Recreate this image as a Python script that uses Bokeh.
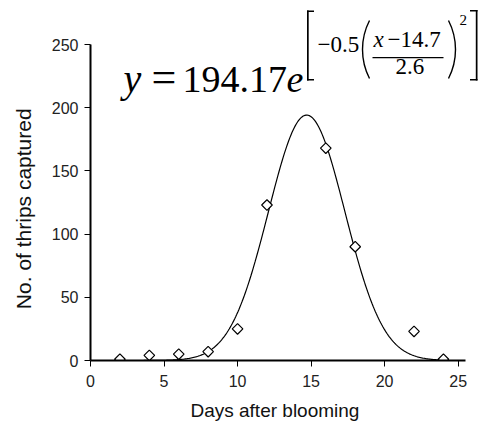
import numpy as np
from bokeh.plotting import figure
from bokeh.models import Range1d, FixedTicker, Label, BoxAnnotation
from bokeh.embed import file_html
from bokeh.resources import INLINE

# ---- data ----
days = [2, 4, 6, 8, 10, 12, 16, 18, 22, 24]
thrips = [1, 4, 5, 7, 25, 123, 168, 90, 23, 1]
# fitted model parameters printed on the chart
amp, mu, sigma = 194.17, 14.7, 2.6
x_ticks = [0, 5, 10, 15, 20, 25]
y_ticks = [0, 50, 100, 150, 200, 250]
x_max, y_max = 25.5, 250

xs = np.linspace(2, 24, 300)
ys = amp * np.exp(-0.5 * ((xs - mu) / sigma) ** 2)

# layout (image pixels)
AX_L, AX_R, AX_T, AX_B = 90, 465, 44, 360   # visible axis box
W, H = 482, 431
FT, FR = 4, 480                              # frame extends beyond axes for the equation
FW = FR - AX_L
FH = AX_B - FT
PPX = (AX_R - AX_L) / x_max
PPY = (AX_B - AX_T) / y_max
X0, X1 = 0, FW / PPX
Y0, Y1 = 0, FH / PPY

p = figure(width=W, height=H, output_backend="svg", toolbar_location=None,
           x_range=Range1d(X0, X1), y_range=Range1d(Y0, Y1),
           frame_width=FW, frame_height=FH,
           min_border_left=AX_L, min_border_top=FT,
           min_border_right=W - FR, min_border_bottom=H - AX_B)
p.outline_line_color = None
p.xgrid.grid_line_color = None
p.ygrid.grid_line_color = None
p.background_fill_color = "white"
p.border_fill_color = "white"

p.xaxis.ticker = FixedTicker(ticks=x_ticks)
p.yaxis.ticker = FixedTicker(ticks=y_ticks)
p.xaxis.bounds = (0, x_max)
p.yaxis.bounds = (0, y_max)
for ax in (p.xaxis[0], p.yaxis[0]):
    ax.axis_line_width = 2
    ax.axis_line_color = "black"
    ax.major_tick_line_color = "black"
    ax.major_tick_line_width = 1
    ax.minor_tick_line_color = None
    ax.major_tick_in = 0
    ax.major_tick_out = 6
    ax.major_label_text_font = "Liberation Sans"
    ax.major_label_text_font_size = "16px"
    ax.major_label_text_color = "#222222"
    ax.axis_label_text_font = "Liberation Sans"
    ax.axis_label_text_font_style = "normal"
    ax.axis_label_text_color = "#111111"
p.xaxis.major_label_standoff = 8
p.yaxis.major_label_standoff = 6
NB = "\u00a0"
p.xaxis.axis_label = "Days after blooming" + NB * 4
p.yaxis.axis_label = "No. of thrips captured" + NB * 9
p.xaxis.axis_label_text_font_size = "19px"
p.yaxis.axis_label_text_font_size = "21px"
p.xaxis.axis_label_standoff = 10
p.yaxis.axis_label_standoff = 14

p.line(xs, ys, line_color="black", line_width=1.2)
p.scatter(days, thrips, marker="square", angle=np.pi / 4, size=7.5,
          fill_color="white", line_color="black", line_width=1.2)

# ---- equation (positions in image pixels, converted to data units) ----
def dx(px):
    return (px - AX_L) / PPX

def dy(py):
    return (AX_B - py) / PPY

def lab(t, px, base, size, style="normal", align="left"):
    # base: desired baseline in image pixels; renderer offsets alphabetic text ~0.37em
    p.add_layout(Label(x=dx(px), y=dy(base - 0.37 * size), text=t,
                       text_font="Liberation Serif",
                       text_font_size=f"{size}px", text_font_style=style,
                       text_baseline="alphabetic", text_align=align,
                       text_color="black"))

def rule(l, r, t, b):
    p.add_layout(BoxAnnotation(left=dx(l), right=dx(r), top=dy(t), bottom=dy(b),
                               fill_color="black", fill_alpha=1, line_color=None))

def paren(cx_px, cy_px, rad, a0, a1):
    p.arc(x=[dx(cx_px)], y=[dy(cy_px)], radius=rad, radius_units="screen",
          start_angle=np.deg2rad(a0), end_angle=np.deg2rad(a1),
          direction="anticlock", line_color="black", line_width=1.4)

lab("y", 123, 93, 40, style="italic")
lab("=", 151, 93, 44)
lab("194.17", 182, 93, 38)
lab("e", 286, 93, 38, style="italic")
lab("\u22120.5", 317, 53, 23)
lab("x", 373, 48, 23, style="italic")
lab("\u221214.7", 387, 48, 23)
lab("2.6", 395, 75, 23)
lab("2", 459, 25, 15)
# square brackets
rule(306.5, 308.2, 10, 80)
rule(306.5, 313.5, 10, 11.5)
rule(306.5, 313.5, 78.5, 80)
rule(475.3, 477, 9.5, 80)
rule(469.5, 477, 9.5, 11)
rule(469.5, 477, 78.5, 80)
# fraction bar
rule(372, 443, 56.5, 57.7)
# large parentheses (radius from height 58 and bulge 7)
R = (29 ** 2 + 7 ** 2) / (2 * 7)
half = np.rad2deg(np.arcsin(29 / R))
paren(362 + R, 49, R, 180 - half, 180 + half)
paren(455 - R, 49, R, -half, half)

open("out.html", "w").write(file_html(p, INLINE))
